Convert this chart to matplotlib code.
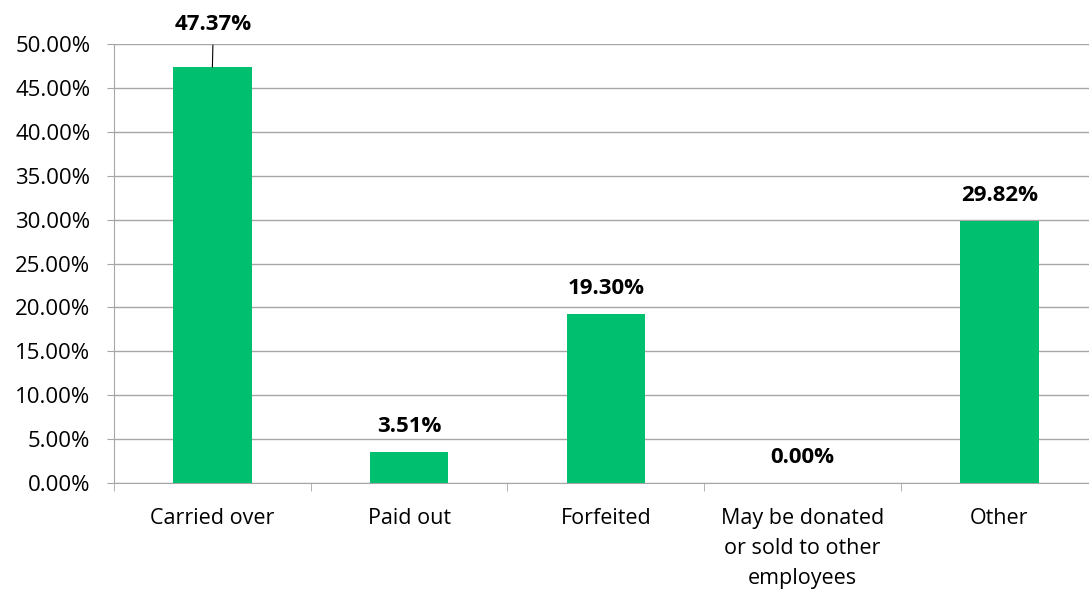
import matplotlib.pyplot as plt
import numpy as np

categories = ["Carried over", "Paid out", "Forfeited",
              "May be donated\nor sold to other\nemployees", "Other"]
values = [47.37, 3.51, 19.30, 0.00, 29.82]

plt.rcParams['font.family'] = ['Open Sans', 'DejaVu Sans']

fig = plt.figure(figsize=(10.89, 5.95), dpi=100)
ax = fig.add_axes([0.1047, 0.188, 0.9033, 0.738])

x = np.arange(len(categories))
ax.bar(x, values, width=0.4, color="#00BF6F", zorder=3)

ax.set_xlim(-0.5, len(categories) - 0.5)
ax.set_ylim(0, 50)
ax.set_yticks(np.arange(0, 50.1, 5))
ax.set_yticklabels([f"{v:.2f}%" for v in np.arange(0, 50.1, 5)], fontsize=16)
ax.yaxis.grid(True, color="#A6A6A6", linewidth=1, zorder=0)

ax.set_xticks(x)
ax.set_xticklabels(categories, fontsize=15.5, linespacing=1.55, va="top")
ax.set_xticks(np.arange(-0.5, len(categories)), minor=True)
ax.tick_params(axis="x", which="major", length=0, pad=18)
ax.tick_params(axis="x", which="minor", length=6, color="#A6A6A6", direction="out")
ax.tick_params(axis="y", length=5, color="#A6A6A6", pad=12)

for s in ["top", "right"]:
    ax.spines[s].set_visible(False)
ax.spines["left"].set_color("#A6A6A6")
ax.spines["bottom"].set_color("#A6A6A6")

for i, v in enumerate(values):
    if i == 0:
        ax.annotate(f"{v:.2f}%", xy=(i, v), xytext=(i + 0.005, v + 4.8),
                    ha="center", va="center", fontsize=16, fontweight="bold",
                    annotation_clip=False,
                    arrowprops=dict(arrowstyle="-", color="black", lw=0.8,
                                    shrinkA=5, shrinkB=0))
    else:
        ax.text(i, v + 2.9, f"{v:.2f}%", ha="center", va="center",
                fontsize=16, fontweight="bold")

fig.savefig("out.png", dpi=100)
